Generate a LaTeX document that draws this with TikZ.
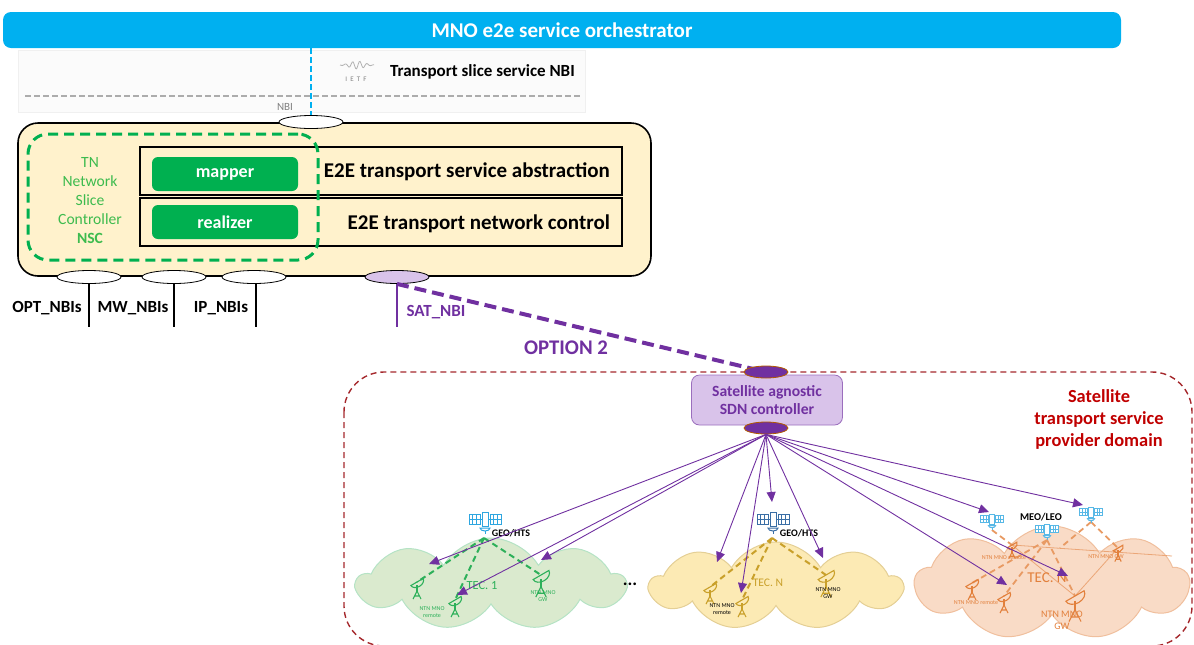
\documentclass[tikz,border=0pt]{standalone}
\usepackage{fontspec}
\setmainfont{Carlito}
\usetikzlibrary{shapes.geometric,shapes.symbols,arrows.meta}

\definecolor{orchblue}{HTML}{00B0F0}
\definecolor{tncfill}{HTML}{FFF2CC}
\definecolor{nscgreen}{HTML}{00B050}
\definecolor{nsctext}{HTML}{3DBB4E}
\definecolor{satpurple}{HTML}{7030A0}
\definecolor{satfill}{HTML}{D9C3EA}
\definecolor{domred}{HTML}{C00000}
\definecolor{domline}{HTML}{A5282C}
\definecolor{satblue}{HTML}{2EA6E0}
\definecolor{satsteel}{HTML}{3A6EA5}
\definecolor{tecgreen}{HTML}{2DB05A}
\definecolor{tecyellow}{HTML}{C9A02A}
\definecolor{tecorange}{HTML}{E2803C}
\definecolor{cloudgreen}{HTML}{DAEACE}
\definecolor{cloudyellow}{HTML}{FCEAB4}
\definecolor{cloudorange}{HTML}{F9DBC6}

\tikzset{
  port/.style={ellipse, draw, fill=white, minimum width=32pt, minimum height=6.5pt, inner sep=0pt},
  gbox/.style={fill=nscgreen, text=white, rounded corners=3pt, minimum width=73pt, minimum height=17pt,
    font=\bfseries\fontsize{9}{10}\selectfont},
  layer/.style={draw, line width=0.6pt, minimum width=241pt, minimum height=24pt},
  layertext/.style={font=\bfseries\fontsize{10.5}{12}\selectfont, anchor=east},
  nbilabel/.style={font=\bfseries\fontsize{8.5}{10}\selectfont},
  tecloud/.style={cloud, cloud puffs=9, cloud puff arc=120, cloud ignores aspect, line width=0.5pt},
  fan/.style={draw=satpurple, line width=0.45pt, -{Triangle[length=5pt,width=4.5pt]}},
  tiny/.style={font=\fontsize{3}{3.5}\selectfont, align=center},
  sat/.pic={
    \draw[fill=white, line width=0.5pt] (-3,-8) rectangle (3,6);
    \draw[fill=white, line width=0.5pt] (-16,-6) rectangle (-5,4) (5,-6) rectangle (16,4);
    \draw[line width=0.35pt] (-12.3,-6) -- (-12.3,4) (-8.6,-6) -- (-8.6,4) (-16,-1) -- (-5,-1)
      (8.6,-6) -- (8.6,4) (12.3,-6) -- (12.3,4) (5,-1) -- (16,-1)
      (-5,-1) -- (-3,-1) (3,-1) -- (5,-1);
    \draw[fill=white, line width=0.5pt] (5,8) arc (0:180:5 and 3) -- cycle;
    \draw[line width=0.5pt] (0,11) -- (0,14);
  },
  dish/.pic={
    \draw[line width=0.55pt, rotate=30] (-7,0) arc (180:0:7 and 5) -- cycle;
    \draw[line width=0.55pt] (0,3) -- (0,10);
    \draw[line width=0.55pt] (-4,17) -- (0,9) -- (4,17) (-2.5,14) -- (2.5,14);
  }
}

\begin{document}
\begin{tikzpicture}[x=0.5pt, y=-0.5pt]
\useasboundingbox (0,0) rectangle (1194,644);
\clip (0,0) rectangle (1194,644);

% orchestrator and the IETF northbound interface
\node[fill=orchblue, text=white, rounded corners=4pt, minimum width=559pt, minimum height=18pt,
  font=\bfseries\fontsize{10.5}{12}\selectfont] (orch) at (562,30) {MNO e2e service orchestrator};
\draw[gray!12, fill=gray!3] (18,50) rectangle (585,112);
\draw[gray!65, line width=0.8pt, dash pattern=on 3pt off 1.5pt] (25,96) -- (580,96);
\draw[gray!60, line width=0.4pt] plot[smooth, domain=0:34, samples=40]
  ({340+\x},{65+4*sin(\x*50)*exp(-((\x-17)/10)^2)});
\node[font=\fontsize{3.5}{4}\selectfont, text=gray] (ietf) at (356,79) {I\ \ E\ \ T\ \ F};
\node[nbilabel, anchor=west] (tsnbi) at (383,72) {Transport slice service NBI};
\node[font=\fontsize{5.5}{6}\selectfont, text=gray] (nbitxt) at (285,107) {NBI};

% transport network controller
\node[draw, line width=0.8pt, fill=tncfill, rounded corners=10pt, minimum width=316.5pt,
  minimum height=76.5pt] (tnc) at (334.5,199.5) {};
\node[port] (nbi) at (311,122) {};
\draw[orchblue, line width=1.2pt, dash pattern=on 3pt off 1.5pt] (orch.south -| nbi) -- (nbi.north);

\node[layer] (abs) at (381,171) {};
\node[layer] (ctl) at (381,222) {};
\node[draw=nscgreen, line width=1.5pt, dash pattern=on 5pt off 3pt, rounded corners=10pt,
  minimum width=145pt, minimum height=63pt] (nsc) at (173,197) {};
\node[text=nsctext, align=center, font=\fontsize{7.8}{9.5}\selectfont] (nsctxt) at (90,201)
  {TN\\Network\\Slice\\Controller\\\textbf{NSC}};
\node[gbox] (mapper) at (225,174) {mapper};
\node[gbox] (realizer) at (225,222) {realizer};
\node[layertext] (abstxt) at (617,172) {E2E transport service abstraction};
\node[layertext] (ctltxt) at (617,224) {E2E transport network control};

% southbound ports
\node[port] (opt) at (89,277) {};
\node[port] (mw) at (174,277) {};
\node[port] (ip) at (254,277) {};
\node[port, fill=satfill] (sat) at (397,277) {};
\coordinate (optend) at (89,327);
\coordinate (mwend) at (174,327);
\coordinate (ipend) at (256,327);
\coordinate (satend) at (397,327);
\draw[line width=1.2pt] (opt.south) -- (optend);
\draw[line width=1.2pt] (mw.south) -- (mwend);
\draw[line width=1.2pt] (ip.south -| ipend) -- (ipend);
\draw[satpurple, line width=1.2pt] (sat.south) -- (satend);
\node[nbilabel] (optlbl) at (47,308) {OPT\_NBIs};
\node[nbilabel] (mwlbl) at (133,308) {MW\_NBIs};
\node[nbilabel] (iplbl) at (221,308) {IP\_NBIs};
\node[nbilabel, text=satpurple] (satlbl) at (436,312) {SAT\_NBI};

% satellite transport provider domain
\draw[domline, line width=0.7pt, dash pattern=on 3pt off 2pt, rounded corners=20pt] (344,372) rectangle (1192,646);
\node[text=domred, align=center, font=\bfseries\fontsize{9.2}{11}\selectfont] (domtxt) at (1099,419)
  {Satellite\\transport service\\provider domain};

\node[draw=satpurple!70, fill=satfill, rounded corners=4pt, minimum width=75.5pt, minimum height=25pt,
  text=satpurple, align=center, font=\bfseries\fontsize{7.8}{8.8}\selectfont] (sdn) at (767,400)
  {Satellite agnostic\\SDN controller};
\draw[satpurple, line width=2pt, dash pattern=on 6pt off 3pt] (sat.south) -- (766,372);
\node[text=satpurple, font=\bfseries\fontsize{10.4}{12}\selectfont] (opt2) at (566,348) {OPTION 2};
\node[ellipse, draw=orange!70!black, line width=0.4pt, fill=satpurple, minimum width=22pt,
  minimum height=6pt, inner sep=0pt] (sdnin) at (766,372) {};
\node[ellipse, draw=orange!70!black, line width=0.4pt, fill=satpurple, minimum width=22pt,
  minimum height=6pt, inner sep=0pt] (sdnout) at (766,428) {};

% technology domains
\node[tecloud, draw=tecgreen!35, fill=cloudgreen, minimum width=134pt, minimum height=46pt] (tec1) at (491,584) {};
\node[tecloud, draw=tecyellow!50, fill=cloudyellow, minimum width=126pt, minimum height=44pt] (tecn) at (776,586) {};
\node[tecloud, draw=tecorange!50, fill=cloudorange, minimum width=137pt, minimum height=57pt] (tecl) at (1052,583) {};
\node[font=\bfseries\fontsize{9}{10}\selectfont] (dots) at (630,584) {...};

% GEO domain 1
\coordinate (s1) at (485,520);
\coordinate (g1) at (417,582);
\coordinate (g2) at (455,600);
\coordinate (g3) at (541,575);
\draw[tecgreen, line width=1pt, dash pattern=on 3pt off 2pt] (484,538) -- (g1) (484,538) -- (g2) (484,538) -- (g3);
\pic[satblue] at (s1) {sat};
\pic[tecgreen] at (g1) {dish};
\pic[tecgreen] at (g2) {dish};
\pic[tecgreen, scale=1.3] at (g3) {dish};
\node[font=\bfseries\fontsize{5}{6}\selectfont] (geo1) at (511,533) {GEO/HTS};
\node[text=tecgreen, font=\fontsize{6.2}{7}\selectfont] (tec1txt) at (482,586) {TEC. 1};
\node[tiny, text=tecgreen] (rem1) at (432,612) {NTN MNO\\remote};
\node[tiny, text=tecgreen] (gw1) at (543,596) {NTN MNO\\GW};

% GEO domain N
\coordinate (s2) at (773,520);
\coordinate (y1) at (710,587);
\coordinate (y2) at (742,600);
\coordinate (y3) at (826,575);
\draw[tecyellow, line width=1pt, dash pattern=on 3pt off 2pt] (772,538) -- (y1) (772,538) -- (y2) (772,538) -- (y3);
\pic[satsteel] at (s2) {sat};
\pic[tecyellow] at (y1) {dish};
\pic[tecyellow] at (y2) {dish};
\pic[tecyellow, scale=1.3] at (y3) {dish};
\node[font=\bfseries\fontsize{5}{6}\selectfont] (geon) at (799,533) {GEO/HTS};
\node[text=tecyellow, font=\fontsize{5.8}{7}\selectfont] (tecntxt) at (768,583) {TEC. N};
\node[tiny] (remn) at (722,609) {NTN MNO\\remote};
\node[tiny] (gwn) at (828,593) {NTN MNO\\GW};

% MEO/LEO domain
\coordinate (s3) at (992,520);
\coordinate (s4) at (1047,530);
\coordinate (s5) at (1091,513);
\coordinate (o1) at (972,583);
\coordinate (o2) at (1004,596);
\coordinate (o3) at (1075,596);
\coordinate (o4) at (1118,548);
\coordinate (o5) at (1012,545);
\coordinate (oend) at (1172,556);
\draw[tecorange!70, line width=0.4pt] (o5) -- (oend) (o5) -- (o3) (o4) -- (o3);
\draw[tecorange!80, line width=0.9pt, dash pattern=on 3pt off 2pt] (992,530) -- (o5) (1047,540) -- (o1)
  (1047,540) -- (o2) (1047,540) -- (o3) (1091,522) -- (o4) (1091,522) -- (1060,548);
\pic[satblue!80, scale=0.7] at (s3) {sat};
\pic[satblue!80, scale=0.7] at (s4) {sat};
\pic[satblue!80, scale=0.7] at (s5) {sat};
\pic[tecorange] at (o1) {dish};
\pic[tecorange] at (o2) {dish};
\pic[tecorange, scale=1.5] at (o3) {dish};
\pic[tecorange, scale=0.8] at (o4) {dish};
\pic[tecorange, scale=0.8] at (o5) {dish};
\node[font=\bfseries\fontsize{5.2}{6}\selectfont] (meo) at (1041,517) {MEO/LEO};
\node[text=tecorange, font=\fontsize{7.5}{9}\selectfont] (tecltxt) at (1047,578) {TEC. N};
\node[tiny, text=tecorange] (reml) at (976,603) {NTN MNO remote};
\node[tiny, text=tecorange] (remm) at (1004,558) {NTN MNO remote};
\node[tiny, text=tecorange] (gwm) at (1106,557) {NTN MNO GW};
\node[tiny, text=tecorange, font=\fontsize{5}{6}\selectfont] (gwl) at (1062,620) {NTN MNO\\GW};

% controller fan-out towards the domains
\coordinate (t1) at (429,564);
\coordinate (t2) at (457,595);
\coordinate (t3) at (541,560);
\coordinate (t4) at (717,562);
\coordinate (t5) at (741,593);
\coordinate (t6) at (772,502);
\coordinate (t7) at (823,558);
\coordinate (t8) at (989,512);
\coordinate (t9) at (1007,585);
\coordinate (t10) at (1068,576);
\coordinate (t11) at (1083,505);
\foreach \t in {t1,t2,t3,t4,t5,t6,t7,t8,t9,t10,t11}
  \draw[fan] (sdnout.south) -- (\t);
\end{tikzpicture}
\end{document}
